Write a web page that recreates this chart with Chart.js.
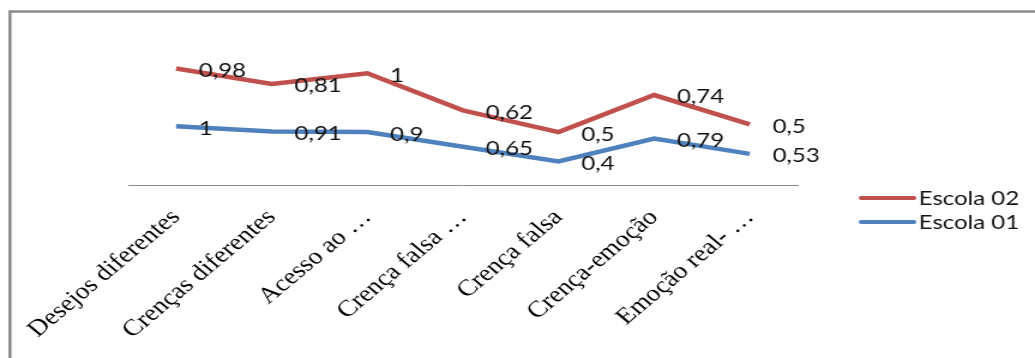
<!DOCTYPE html>
<html>
<head>
<meta charset="utf-8">
<script src="https://cdn.jsdelivr.net/npm/chart.js@4"></script>
<style>
  body { margin: 0; background: #fff; overflow: hidden; }
  #chart { width: 1035px; height: 358px; display: block; }
</style>
</head>
<body>
<canvas id="chart" width="863" height="358" style="width:1035px;height:358px"></canvas>
<script>
const categories = [
   "Desejos diferentes",
   "Crenças diferentes",
   "Acesso ao \u2026",
   "Crença falsa \u2026",
   "Crença falsa",
   "Crença-emoção",
   "Emoção real- \u2026",
];
const escola01 = [1, 0.91, 0.9, 0.65, 0.4, 0.79, 0.53];
const escola02 = [0.98, 0.81, 1, 0.62, 0.5, 0.74, 0.5];

const RED = "#C0504D";
const BLUE = "#4F81BD";

function fmt(v) {
   return String(v).replace(".", ",");
}

// gray frame round the chart, cut at right and bottom like the original
const framePlugin = {
   id: "frame",
   beforeDraw(chart) {
      const ctx = chart.ctx;
      ctx.save();
      ctx.strokeStyle = "#8a8a8a";
      ctx.lineWidth = 2.5;
      ctx.strokeRect(8.3, 11.5, 2000, 2000);
      ctx.restore();
   },
};

// value labels at the right of each point
const valueLabels = {
   id: "valueLabels",
   afterDatasetsDraw(chart) {
      const ctx = chart.ctx;
      ctx.save();
      ctx.font = "20px Lato";
      ctx.fillStyle = "#111";
      ctx.textAlign = "left";
      ctx.textBaseline = "middle";
      chart.data.datasets.forEach((ds, i) => {
         const meta = chart.getDatasetMeta(i);
         meta.data.forEach((pt, j) => {
            ctx.fillText(fmt(ds.data[j]), pt.x + 19, pt.y + 2);
         });
      });
      ctx.restore();
   },
};

// legend: Escola 02 first, then Escola 01
const sideLegend = {
   id: "sideLegend",
   afterDraw(chart) {
      const ctx = chart.ctx;
      const items = chart.data.datasets.slice().reverse();
      ctx.save();
      ctx.font = "20px Lato";
      ctx.fillStyle = "#111";
      ctx.textBaseline = "middle";
      items.forEach((ds, k) => {
         const y = 198 + k * 24;
         ctx.strokeStyle = ds.borderColor;
         ctx.lineWidth = 4;
         ctx.lineCap = "round";
         ctx.beginPath();
         ctx.moveTo(718, y);
         ctx.lineTo(762, y);
         ctx.stroke();
         ctx.fillText(ds.label, 766, y + 1);
      });
      ctx.restore();
   },
};

new Chart(document.getElementById("chart"), {
   type: "line",
   data: {
      labels: categories,
      datasets: [
         {
            label: "Escola 01",
            data: escola01,
            borderColor: BLUE,
            backgroundColor: BLUE,
            borderWidth: 4.5,
            pointRadius: 0,
            tension: 0,
         },
         {
            label: "Escola 02",
            data: escola02,
            borderColor: RED,
            backgroundColor: RED,
            borderWidth: 4.5,
            pointRadius: 0,
            tension: 0,
         },
      ],
   },
   options: {
      responsive: false,
      animation: false,
      layout: {
         padding: { left: 107, right: 198, top: 38, bottom: 0 },
      },
      plugins: {
         legend: { display: false },
         tooltip: { enabled: false },
      },
      scales: {
         x: {
            offset: true,
            grid: { display: false, drawTicks: false },
            border: { display: true, color: "#868686", width: 1 },
            ticks: {
               minRotation: 45,
               maxRotation: 45,
               padding: 19,
               color: "#000",
               font: { family: "'Liberation Serif'", size: 23 },
            },
            afterFit(scale) {
               scale.height = 173;
            },
         },
         y: {
            display: false,
            stacked: true,
            min: 0,
            max: 2.5,
         },
      },
   },
   plugins: [framePlugin, valueLabels, sideLegend],
});
</script>
</body>
</html>
